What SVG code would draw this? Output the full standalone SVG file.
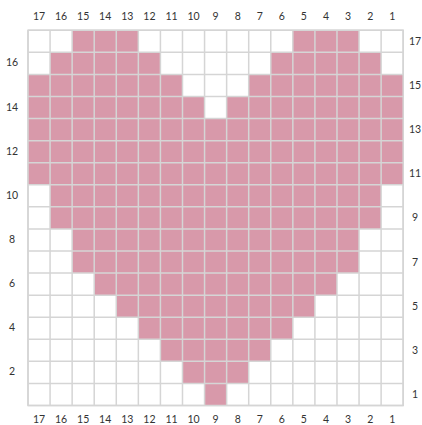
<svg xmlns="http://www.w3.org/2000/svg" width="422" height="425" viewBox="0 0 422 425">
<style>
.c{fill:#fff;stroke:#d5d5d5;stroke-width:0.07}
.p{fill:#d899aa}
text{font-family:Lato,"Open Sans","Liberation Sans",sans-serif;font-size:10.5px;fill:#333;text-anchor:middle}
</style>
<rect width="422" height="425" fill="#fff"/>
<g id="grid" transform="translate(28,30.3) scale(22.07)">
<defs><rect id="u" width="1" height="1"/></defs>
<g id="cells" class="c">
<path d="M0 0H17V17H0Z" fill="#fff"/>
</g>
<g id="heart" class="p">
<rect x="2" y="0" width="3" height="1"/><rect x="12" y="0" width="3" height="1"/>
<rect x="1" y="1" width="5" height="1"/><rect x="11" y="1" width="5" height="1"/>
<rect x="0" y="2" width="7" height="1"/><rect x="10" y="2" width="7" height="1"/>
<rect x="0" y="3" width="8" height="1"/><rect x="9" y="3" width="8" height="1"/>
<rect x="0" y="4" width="17" height="3"/>
<rect x="1" y="7" width="15" height="2"/>
<rect x="2" y="9" width="13" height="2"/>
<rect x="3" y="11" width="11" height="1"/>
<rect x="4" y="12" width="9" height="1"/>
<rect x="5" y="13" width="7" height="1"/>
<rect x="6" y="14" width="5" height="1"/>
<rect x="7" y="15" width="3" height="1"/>
<rect x="8" y="16" width="1" height="1"/>
</g>
<path id="lines" fill="none" stroke="#d5d5d5" stroke-width="0.068" d="M0 0V17M1 0V17M2 0V17M3 0V17M4 0V17M5 0V17M6 0V17M7 0V17M8 0V17M9 0V17M10 0V17M11 0V17M12 0V17M13 0V17M14 0V17M15 0V17M16 0V17M17 0V17M0 0H17M0 1H17M0 2H17M0 3H17M0 4H17M0 5H17M0 6H17M0 7H17M0 8H17M0 9H17M0 10H17M0 11H17M0 12H17M0 13H17M0 14H17M0 15H17M0 16H17M0 17H17"/>
</g>
<g id="top-labels">
<text x="39.0" y="19.5">17</text><text x="61.1" y="19.5">16</text><text x="83.2" y="19.5">15</text><text x="105.2" y="19.5">14</text><text x="127.3" y="19.5">13</text><text x="149.4" y="19.5">12</text><text x="171.5" y="19.5">11</text><text x="193.5" y="19.5">10</text><text x="215.6" y="19.5">9</text><text x="237.7" y="19.5">8</text><text x="259.8" y="19.5">7</text><text x="281.8" y="19.5">6</text><text x="303.9" y="19.5">5</text><text x="326.0" y="19.5">4</text><text x="348.1" y="19.5">3</text><text x="370.2" y="19.5">2</text><text x="392.2" y="19.5">1</text>
</g>
<g id="bottom-labels">
<text x="39.0" y="423">17</text><text x="61.1" y="423">16</text><text x="83.2" y="423">15</text><text x="105.2" y="423">14</text><text x="127.3" y="423">13</text><text x="149.4" y="423">12</text><text x="171.5" y="423">11</text><text x="193.5" y="423">10</text><text x="215.6" y="423">9</text><text x="237.7" y="423">8</text><text x="259.8" y="423">7</text><text x="281.8" y="423">6</text><text x="303.9" y="423">5</text><text x="326.0" y="423">4</text><text x="348.1" y="423">3</text><text x="370.2" y="423">2</text><text x="392.2" y="423">1</text>
</g>
<g id="left-labels">
<text x="12" y="66.4">16</text><text x="12" y="110.5">14</text><text x="12" y="154.7">12</text><text x="12" y="198.8">10</text><text x="12" y="242.9">8</text><text x="12" y="287.1">6</text><text x="12" y="331.2">4</text><text x="12" y="375.4">2</text>
</g>
<g id="right-labels">
<text x="415" y="44.9">17</text><text x="415" y="89.0">15</text><text x="415" y="133.2">13</text><text x="415" y="177.3">11</text><text x="415" y="221.4">9</text><text x="415" y="265.6">7</text><text x="415" y="309.7">5</text><text x="415" y="353.9">3</text><text x="415" y="398.0">1</text>
</g>
</svg>
